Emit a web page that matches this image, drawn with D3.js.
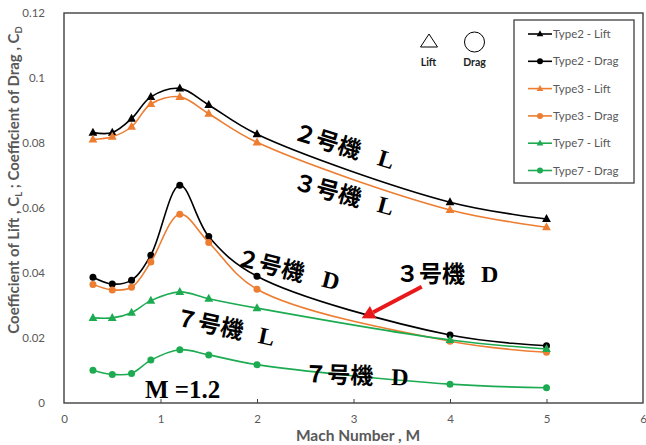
<!DOCTYPE html>
<html><head><meta charset="utf-8">
<script src="https://cdn.jsdelivr.net/npm/d3@7"></script>
<style>body{margin:0;background:#fff}svg{display:block}</style>
</head><body>
<script>
const mach = [0.3, 0.5, 0.7, 0.9, 1.2, 1.5, 2, 4, 5];
const type2Lift = [0.0832, 0.0832, 0.0875, 0.0942, 0.0968, 0.0917, 0.0827, 0.0618, 0.0566];
const type2Drag = [0.0387, 0.0366, 0.0378, 0.0455, 0.0670, 0.0512, 0.0390, 0.0209, 0.0176];
const type3Lift = [0.0811, 0.0819, 0.0850, 0.0920, 0.0942, 0.0890, 0.0802, 0.0594, 0.0541];
const type3Drag = [0.0365, 0.0348, 0.0356, 0.0434, 0.0581, 0.0494, 0.0350, 0.0190, 0.0156];
const type7Lift = [0.0262, 0.0262, 0.0278, 0.0315, 0.0342, 0.0321, 0.0292, 0.0194, 0.0166];
const type7Drag = [0.0101, 0.0088, 0.0091, 0.0132, 0.0164, 0.0148, 0.0118, 0.0058, 0.0047];
const seriesNames = ["Type2 - Lift", "Type2 - Drag", "Type3 - Lift", "Type3 - Drag", "Type7 - Lift", "Type7 - Drag"];
const xTicks = [0, 1, 2, 3, 4, 5, 6];
const yTicks = [0, 0.02, 0.04, 0.06, 0.08, 0.1, 0.12];

const W = 646, H = 445;
const M = {l: 64, r: 3, t: 13, b: 42};
const svg = d3.select("body").append("svg").attr("width", W).attr("height", H);
const x = d3.scaleLinear().domain([0, 6]).range([M.l, W - M.r]);
const y = d3.scaleLinear().domain([0, 0.12]).range([H - M.b, M.t]);
const gray = "#595959";
const uiFont = "Lato, 'Open Sans', sans-serif";

const series = [
  {name: seriesNames[0], vals: type2Lift, color: "#000000", sym: "tri"},
  {name: seriesNames[1], vals: type2Drag, color: "#000000", sym: "circ"},
  {name: seriesNames[2], vals: type3Lift, color: "#ED7D31", sym: "tri"},
  {name: seriesNames[3], vals: type3Drag, color: "#ED7D31", sym: "circ"},
  {name: seriesNames[4], vals: type7Lift, color: "#1DAB52", sym: "tri"},
  {name: seriesNames[5], vals: type7Drag, color: "#1DAB52", sym: "circ"}
];

// axes
const xAxis = d3.axisBottom(x).tickValues(xTicks).tickFormat(d3.format("d")).tickSizeInner(-4).tickSizeOuter(0).tickPadding(12);
const gx = svg.append("g").attr("transform", `translate(0,${y(0)})`).call(xAxis);
const yAxis = d3.axisLeft(y).tickValues(yTicks).tickFormat(d => d === 0 ? "0" : String(+d.toFixed(2))).tickSize(0).tickPadding(19);
const gy = svg.append("g").attr("transform", `translate(${x(0)},0)`).call(yAxis);
[gx, gy].forEach(g => {
  g.select(".domain").remove();
  g.selectAll(".tick line").attr("stroke", "#404040");
  g.selectAll(".tick text").attr("fill", gray).attr("font-family", uiFont).attr("font-size", 11.5);
});
gx.selectAll(".tick").filter(d => d === 0 || d === 6).select("line").remove();

svg.append("rect").attr("x", x(0)).attr("y", y(0.12)).attr("width", x(6) - x(0)).attr("height", y(0) - y(0.12))
  .attr("fill", "none").attr("stroke", "#404040").attr("stroke-width", 1.4);

// axis titles
svg.append("text").attr("x", 358).attr("y", 441).attr("text-anchor", "middle")
  .attr("font-family", uiFont).attr("font-weight", 700).attr("font-size", 15.5).attr("fill", gray)
  .text("Mach Number , M");
const yt = svg.append("text").attr("transform", "translate(19,180) rotate(-90)").attr("text-anchor", "middle")
  .attr("font-family", uiFont).attr("font-weight", 700).attr("font-size", 15).attr("fill", gray);
yt.append("tspan").text("Coefficient of Lift , C");
yt.append("tspan").attr("font-size", 9.5).attr("dy", 3).text("L");
yt.append("tspan").attr("dy", -3).text(" ; Coefficient of Drag , C");
yt.append("tspan").attr("font-size", 9.5).attr("dy", 3).text("D");

// lines
const line = d3.line().x((d, i) => x(mach[i])).y(d => y(d)).curve(d3.curveCatmullRom.alpha(0.5));
const triPath = s => `M0,${-s * 0.62}L${s * 0.55},${s * 0.38}L${-s * 0.55},${s * 0.38}Z`;
series.forEach(s => {
  svg.append("path").attr("d", line(s.vals)).attr("fill", "none").attr("stroke", s.color).attr("stroke-width", 1.6);
  const g = svg.append("g");
  s.vals.forEach((v, i) => {
    if (s.sym === "tri") g.append("path").attr("d", triPath(8)).attr("transform", `translate(${x(mach[i])},${y(v)})`).attr("fill", s.color);
    else g.append("circle").attr("cx", x(mach[i])).attr("cy", y(v)).attr("r", 3.5).attr("fill", s.color);
  });
});

// legend
const lg = svg.append("g");
lg.append("rect").attr("x", 514).attr("y", 20).attr("width", 120).attr("height", 163)
  .attr("fill", "#fff").attr("stroke", "#404040").attr("stroke-width", 1.3);
series.forEach((s, i) => {
  const cy = 34 + i * 27.3;
  lg.append("line").attr("x1", 528).attr("x2", 552).attr("y1", cy).attr("y2", cy).attr("stroke", s.color).attr("stroke-width", 1.6);
  if (s.sym === "tri") lg.append("path").attr("d", triPath(6)).attr("transform", `translate(540,${cy})`).attr("fill", s.color);
  else lg.append("circle").attr("cx", 540).attr("cy", cy).attr("r", 3).attr("fill", s.color);
  lg.append("text").attr("x", 553).attr("y", cy + 4).attr("font-family", uiFont).attr("font-size", 11.5).attr("fill", gray).text(s.name);
});

// symbol key
svg.append("path").attr("d", "M429,34L437.5,47L420.5,47Z").attr("fill", "none").attr("stroke", "#000").attr("stroke-width", 1);
svg.append("circle").attr("cx", 474.5).attr("cy", 42).attr("r", 10).attr("fill", "none").attr("stroke", "#000").attr("stroke-width", 1);
svg.append("text").attr("x", 428.5).attr("y", 66).attr("text-anchor", "middle").attr("font-family", uiFont).attr("font-weight", 700).attr("font-size", 10.5).attr("fill", "#222").text("Lift");
svg.append("text").attr("x", 474.5).attr("y", 66).attr("text-anchor", "middle").attr("font-family", uiFont).attr("font-weight", 700).attr("font-size", 10.5).attr("fill", "#222").text("Drag");

// annotations
const jp = "'Noto Sans CJK JP', sans-serif";
const serif = "'Liberation Serif', 'DejaVu Serif', serif";
function label(jpText, latin, px, py, rot, dx) {
  const t = svg.append("text").attr("transform", `translate(${px},${py}) rotate(${rot})`).attr("fill", "#000");
  t.append("tspan").attr("font-family", jp).attr("font-weight", 700).attr("font-size", 23).text(jpText);
  t.append("tspan").attr("font-family", serif).attr("font-weight", 700).attr("font-size", 24).attr("dx", dx).text(latin);
}
label("２号機", "L", 292, 139, 17, 19);
label("３号機", "L", 292, 189, 15, 18);
label("２号機", "D", 235, 265, 14, 19);
label("３号機", "D", 396, 282, 0, 16);
label("７号機", "L", 174, 325, 12, 16);
label("７号機", "D", 304, 382, 2, 18);
svg.append("text").attr("x", 145).attr("y", 398).attr("font-family", serif).attr("font-weight", 700).attr("font-size", 25).attr("fill", "#000").text("M =1.2");

// red arrow
const ax1 = 421.7, ay1 = 286.7, ax2 = 361.7, ay2 = 318.3;
const ang = Math.atan2(ay2 - ay1, ax2 - ax1);
const hl = 13, hw = 7;
const bx = ax2 - hl * Math.cos(ang), by = ay2 - hl * Math.sin(ang);
svg.append("line").attr("x1", ax1).attr("y1", ay1).attr("x2", bx).attr("y2", by).attr("stroke", "#E8191B").attr("stroke-width", 4);
svg.append("path").attr("d", `M${ax2},${ay2}L${bx + hw * Math.sin(ang)},${by - hw * Math.cos(ang)}L${bx - hw * Math.sin(ang)},${by + hw * Math.cos(ang)}Z`).attr("fill", "#E8191B");
</script>
</body></html>
